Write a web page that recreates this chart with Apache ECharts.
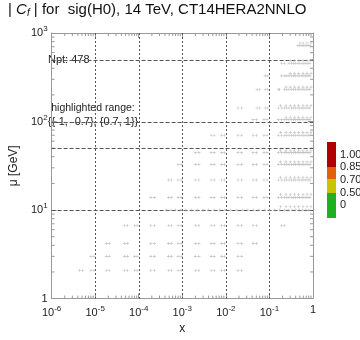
<!DOCTYPE html>
<html lang="en">
<head>
	<meta charset="UTF-8">
	<title>Cf sig(H0)</title>
	<script src="https://cdn.jsdelivr.net/npm/echarts@6/dist/echarts.min.js"></script>
</head>
<body style="margin:0">
	<div id="main" style="width: 360px;height: 340px"></div>
	<script>
		// axes
		var xDecades = [1e-6, 1e-5, 1e-4, 1e-3, 1e-2, 1e-1, 1];
		var yDecades = [1, 10, 100, 1000];
		var minorMult = [2, 3, 4, 5, 6, 7, 8, 9];
		var hLines = [10, 50, 100, 500];
		var vLines = [1e-5, 1e-4, 1e-3, 1e-2, 1e-1];
		var cbLabels = ['1.00', '0.85', '0.70', '0.50', '0'];
		var cbColors = ['#b10000', '#e0600c', '#c8c400', '#1fb01f'];

		// points: one mu value per row, the x values of that row
		var rowMu = [2.08, 3.0, 4.2, 6.7, 10, 13.9, 21.9, 32.8, 44.5, 70, 105, 142, 230, 328, 456, 720,
			10.9, 15, 23.5, 35, 47, 75, 112, 152, 245, 350, 490, 770];
		var rowX = [
			[4.4e-6, 5.2e-6, 8e-6, 9.4e-6, 1.8e-5, 2.1e-5, 4.7e-5, 5.5e-5, 8e-5, 9.2e-5, 1.9e-4, 2.3e-4, 4.8e-4, 5.6e-4, 8e-4, 9.4e-4, 2e-3, 2.4e-3, 4.6e-3, 5.4e-3, 8e-3, 9.2e-3, 0.019, 0.023],
			[8e-6, 9.4e-6, 1.8e-5, 2.1e-5, 4.7e-5, 5.5e-5, 8e-5, 9.2e-5, 1.9e-4, 2.3e-4, 4.8e-4, 5.6e-4, 8e-4, 9.4e-4, 2e-3, 2.4e-3, 4.6e-3, 5.4e-3, 8e-3, 9.2e-3, 0.019, 0.023],
			[1.8e-5, 2.1e-5, 4.7e-5, 5.5e-5, 1.9e-4, 2.3e-4, 4.8e-4, 5.6e-4, 8e-4, 9.4e-4, 2e-3, 2.4e-3, 4.6e-3, 5.4e-3, 8e-3, 9.2e-3, 0.019, 0.023, 0.042, 0.05],
			[4.7e-5, 5.5e-5, 8e-5, 9.2e-5, 1.9e-4, 2.3e-4, 4.8e-4, 5.6e-4, 8e-4, 9.4e-4, 2e-3, 2.4e-3, 4.6e-3, 5.4e-3, 8e-3, 9.2e-3, 0.019, 0.023, 0.042, 0.05, 0.19, 0.22],
			[4.4e-4, 5.5e-4, 7e-4, 9e-4, 1.2e-3, 1.6e-3, 2.2e-3, 3e-3, 4e-3, 5.4e-3, 7.2e-3, 9.5e-3, 0.013, 0.018, 0.024, 0.032, 0.043, 0.057, 0.076, 0.1, 0.13, 0.17, 0.22, 0.27, 0.33, 0.4, 0.48, 0.57, 0.68, 0.8],
			[1.9e-4, 2.3e-4, 4.8e-4, 5.6e-4, 8e-4, 9.4e-4, 2e-3, 2.4e-3, 4.6e-3, 5.4e-3, 8e-3, 9.2e-3, 0.019, 0.023, 0.042, 0.05, 0.075, 0.088, 0.16, 0.19, 0.22, 0.25, 0.28, 0.32, 0.36, 0.4, 0.45, 0.5, 0.56, 0.62, 0.69, 0.77, 0.85],
			[4.8e-4, 5.6e-4, 8e-4, 9.4e-4, 2e-3, 2.4e-3, 4.6e-3, 5.4e-3, 8e-3, 9.2e-3, 0.019, 0.023, 0.042, 0.05, 0.075, 0.088, 0.16, 0.19, 0.22, 0.25, 0.28, 0.32, 0.36, 0.4, 0.45, 0.5, 0.56, 0.62, 0.69, 0.77, 0.85],
			[8e-4, 9.4e-4, 2e-3, 2.4e-3, 4.6e-3, 5.4e-3, 8e-3, 9.2e-3, 0.019, 0.023, 0.042, 0.05, 0.075, 0.088, 0.16, 0.19, 0.22, 0.25, 0.28, 0.32, 0.36, 0.4, 0.45, 0.5, 0.56, 0.62, 0.69, 0.77, 0.85],
			[2e-3, 2.4e-3, 4.6e-3, 5.4e-3, 8e-3, 9.2e-3, 0.019, 0.023, 0.042, 0.05, 0.075, 0.088, 0.16, 0.19, 0.22, 0.25, 0.28, 0.32, 0.36, 0.4, 0.45, 0.5, 0.56, 0.62, 0.69, 0.77, 0.85],
			[4.6e-3, 5.4e-3, 8e-3, 9.2e-3, 0.019, 0.023, 0.042, 0.05, 0.075, 0.088, 0.16, 0.19, 0.22, 0.25, 0.28, 0.32, 0.36, 0.4, 0.45, 0.5, 0.56, 0.62, 0.69, 0.77, 0.85],
			[0.042, 0.05, 0.075, 0.088, 0.16, 0.19, 0.22, 0.25, 0.28, 0.32, 0.36, 0.4, 0.45, 0.5, 0.56, 0.62, 0.69, 0.77, 0.85],
			[0.019, 0.023, 0.052, 0.06, 0.08, 0.092, 0.16, 0.19, 0.22, 0.25, 0.28, 0.32, 0.36, 0.4, 0.45, 0.5, 0.56, 0.62, 0.69, 0.77, 0.85],
			[0.052, 0.06, 0.08, 0.092, 0.16, 0.17, 0.22, 0.25, 0.28, 0.32, 0.36, 0.4, 0.45, 0.5, 0.56, 0.62, 0.69, 0.77, 0.85],
			[0.08, 0.092, 0.19, 0.22, 0.25, 0.28, 0.32, 0.36, 0.4, 0.45, 0.5, 0.56, 0.62, 0.69, 0.77, 0.85],
			[0.19, 0.22, 0.28, 0.32, 0.36, 0.4, 0.45, 0.5, 0.56, 0.62, 0.69, 0.77, 0.85],
			[0.45, 0.5, 0.56, 0.62, 0.69, 0.77, 0.85],
			[0.18, 0.24, 0.3, 0.38, 0.47, 0.59, 0.73, 0.9],
			[0.18, 0.24, 0.3, 0.38, 0.47, 0.59, 0.73, 0.9],
			[0.18, 0.24, 0.3, 0.38, 0.47, 0.59, 0.73, 0.9],
			[0.18, 0.24, 0.3, 0.38, 0.47, 0.59, 0.73, 0.9],
			[0.18, 0.24, 0.3, 0.38, 0.47, 0.59, 0.73, 0.9],
			[0.18, 0.24, 0.3, 0.38, 0.47, 0.59, 0.73, 0.9],
			[0.24, 0.3, 0.38, 0.47, 0.59, 0.73, 0.9],
			[0.18, 0.24, 0.3, 0.38, 0.47, 0.59, 0.73, 0.9],
			[0.24, 0.3, 0.38, 0.47, 0.59, 0.73, 0.9],
			[0.3, 0.38, 0.47, 0.59, 0.73, 0.9],
			[0.3, 0.38, 0.47, 0.59, 0.73, 0.9],
			[0.5, 0.59, 0.73, 0.9]
		];

		var FONT = '"Liberation Sans", Arial, sans-serif';

		var points = [];
		rowMu.forEach(function(mu, r) {
			rowX[r].forEach(function(x) { points.push([x, mu]); });
		});

		// minor tick positions (2..9 within every decade)
		var xMinor = [], yMinor = [];
		xDecades.slice(0, -1).forEach(function(d) {
			minorMult.forEach(function(m) { xMinor.push([m * d, 1]); });
		});
		yDecades.slice(0, -1).forEach(function(d) {
			minorMult.forEach(function(m) { yMinor.push([1e-6, m * d]); });
		});

		function powLabel(v) {
			var e = Math.round(Math.log10(v));
			if (e === 0) return '{b|1}';
			return '{b|10}{s|' + e + '}';
		}
		var labelRich = {
			b: { fontSize: 11, fontFamily: FONT, color: '#222' },
			s: { fontSize: 8, fontFamily: FONT, color: '#222', padding: [0, 0, 8, 0] }
		};

		var frame = { lineStyle: { color: '#999', width: 1 } };
		var tick = { inside: true, length: 5, lineStyle: { color: '#999' } };

		function minorX(params, api) {
			var cs = params.coordSys;
			var x = api.coord([api.value(0), 1])[0];
			return { type: 'group', children: [
				{ type: 'line', shape: { x1: x, y1: cs.y + cs.height, x2: x, y2: cs.y + cs.height - 3 }, style: { stroke: '#999', lineWidth: 1 } },
				{ type: 'line', shape: { x1: x, y1: cs.y, x2: x, y2: cs.y + 3 }, style: { stroke: '#999', lineWidth: 1 } }
			] };
		}
		function minorY(params, api) {
			var cs = params.coordSys;
			var y = api.coord([1e-6, api.value(1)])[1];
			return { type: 'group', children: [
				{ type: 'line', shape: { x1: cs.x, y1: y, x2: cs.x + 3, y2: y }, style: { stroke: '#999', lineWidth: 1 } },
				{ type: 'line', shape: { x1: cs.x + cs.width, y1: y, x2: cs.x + cs.width - 3, y2: y }, style: { stroke: '#999', lineWidth: 1 } }
			] };
		}
		// dashed guide lines across the whole plot
		function gridH(params, api) {
			var cs = params.coordSys;
			var y = Math.round(api.coord([1e-6, api.value(1)])[1]) + 0.5;
			return { type: 'line', shape: { x1: cs.x, y1: y, x2: cs.x + cs.width, y2: y },
				style: { stroke: '#555', lineWidth: 1, lineDash: [4, 2] } };
		}
		function gridV(params, api) {
			var cs = params.coordSys;
			var x = Math.round(api.coord([api.value(0), 1])[0]) + 0.5;
			return { type: 'line', shape: { x1: x, y1: cs.y, x2: x, y2: cs.y + cs.height },
				style: { stroke: '#555', lineWidth: 1, lineDash: [2, 2] } };
		}

		var graphics = [
			{ type: 'text', left: 8, top: 2, style: {
				text: '| {i|C}{f|f} | for  sig(H0), 14 TeV, CT14HERA2NNLO',
				font: '15px ' + FONT, fill: '#111',
				rich: {
					i: { fontSize: 15, fontStyle: 'italic', fontFamily: FONT },
					f: { fontSize: 10, fontStyle: 'italic', fontFamily: FONT, padding: [7, 0, 0, 0] }
				}
			} },
			{ type: 'text', x: 48, y: 60, style: { text: 'Npt: 478', font: '11px ' + FONT, fill: '#222', verticalAlign: 'middle' } },
			{ type: 'text', x: 93, y: 108, style: { text: 'highlighted range:', font: '10.5px ' + FONT, fill: '#222', align: 'center', verticalAlign: 'middle' } },
			{ type: 'text', x: 93, y: 122, style: { text: '{{-1, -0.7}, {0.7, 1}}', font: '11px ' + FONT, fill: '#222', align: 'center', verticalAlign: 'middle' } }
		];
		// colour bar
		var cbTop = [142, 167, 179, 193], cbBottom = [167, 179, 193, 218];
		cbColors.forEach(function(c, i) {
			graphics.push({ type: 'rect', shape: { x: 327, y: cbTop[i], width: 9, height: cbBottom[i] - cbTop[i] }, style: { fill: c } });
		});
		var cbLabelY = [155, 167, 180, 193, 205];
		cbLabels.forEach(function(t, i) {
			graphics.push({ type: 'text', x: 340, y: cbLabelY[i], style: { text: t, font: '11px ' + FONT, fill: '#222', verticalAlign: 'middle' } });
		});

		var myChart = echarts.init(document.getElementById('main'));
		var option = {
			animation: false,
			grid: { left: 39, right: 47, top: 33, bottom: 34 },
			xAxis: [
				{
					type: 'log', logBase: 10, min: 1e-6, max: 1,
					name: 'x', nameLocation: 'middle', nameGap: 22,
					nameTextStyle: { fontSize: 12, fontFamily: FONT, color: '#222' },
					axisLine: frame, axisTick: tick, splitLine: { show: false },
					axisLabel: { formatter: powLabel, rich: labelRich, margin: 6, showMinLabel: true, showMaxLabel: true }
				},
				{
					type: 'log', logBase: 10, min: 1e-6, max: 1, position: 'top',
					axisLine: frame, axisTick: tick, splitLine: { show: false }, axisLabel: { show: false }
				}
			],
			yAxis: [
				{
					type: 'log', logBase: 10, min: 1, max: 1000,
					name: 'μ [GeV]', nameLocation: 'middle', nameGap: 22, nameRotate: 90,
					nameTextStyle: { fontSize: 12, fontFamily: FONT, color: '#222' },
					axisLine: frame, axisTick: tick, splitLine: { show: false },
					axisLabel: { formatter: powLabel, rich: labelRich, margin: 4 }
				},
				{
					type: 'log', logBase: 10, min: 1, max: 1000, position: 'right',
					axisLine: frame, axisTick: tick, splitLine: { show: false }, axisLabel: { show: false }
				}
			],
			series: [
				{ type: 'custom', renderItem: minorX, data: xMinor, silent: true, clip: false },
				{ type: 'custom', renderItem: minorY, data: yMinor, silent: true, clip: false },
				{ type: 'custom', renderItem: gridH, data: hLines.map(function(v) { return [1e-6, v]; }), silent: true },
				{ type: 'custom', renderItem: gridV, data: vLines.map(function(v) { return [v, 1]; }), silent: true },
				{
					type: 'scatter',
					data: points,
					symbol: 'path://M2,0h1v5h-1z M0,2h5v1h-5z',
					symbolSize: 3,
					itemStyle: { color: '#b0b0b0' },
					silent: true
				}
			],
			graphic: graphics
		};

		myChart.setOption(option);
	</script>
</body>
</html>
